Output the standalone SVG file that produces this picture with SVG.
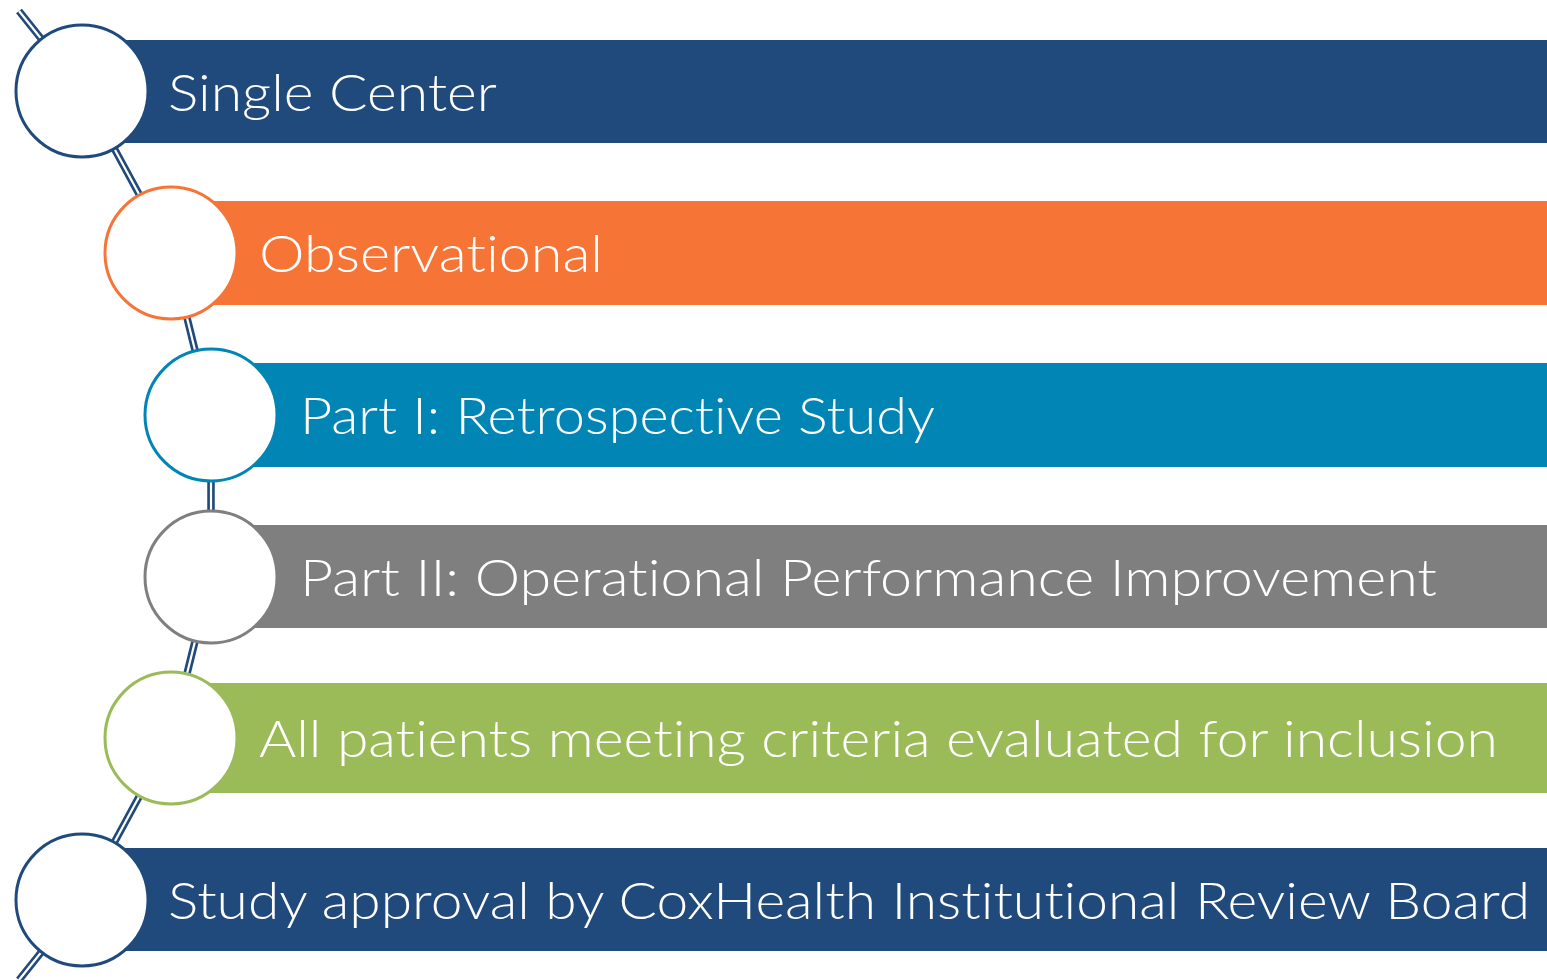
<svg xmlns="http://www.w3.org/2000/svg" width="1547" height="980" viewBox="0 0 1547 980">
  <style>
    .label { font-family: "Century Gothic", "Lato", "Liberation Sans", sans-serif; font-weight: 300; font-size: 52px; fill: #ffffff; font-variant-ligatures: none; font-feature-settings: "liga" 0, "clig" 0; }
    .dot { fill: #ffffff; stroke-width: 3; }
    .rail-outer { fill: none; stroke: #214A7C; stroke-width: 7.5; stroke-linejoin: round; }
    .rail-inner { fill: none; stroke: #ffffff; stroke-width: 2.2; stroke-linejoin: round; }
  </style>
  <rect width="1547" height="980" fill="#ffffff"/>

  <!-- double-line spine linking the steps -->
  <g id="connectors">
    <polyline class="rail-outer" points="19,11 83,91 171,253 211,415 211,577 171,738 83,900 19,980"/>
    <polyline class="rail-inner" points="19,11 83,91 171,253 211,415 211,577 171,738 83,900 19,980"/>
  </g>

  <g id="step1">
    <rect x="83" y="40" width="1464" height="103" fill="#214A7C"/>
    <circle class="dot" cx="82" cy="91" r="66" stroke="#214A7C"/>
    <text class="label" x="168" y="111" textLength="329" lengthAdjust="spacingAndGlyphs">Single Center</text>
  </g>

  <g id="step2">
    <rect x="171" y="201" width="1376" height="104" fill="#F77437"/>
    <circle class="dot" cx="171" cy="253" r="66" stroke="#F77437"/>
    <text class="label" x="259" y="272" textLength="344" lengthAdjust="spacingAndGlyphs">Observational</text>
  </g>

  <g id="step3">
    <rect x="211" y="363" width="1336" height="104" fill="#0085B5"/>
    <circle class="dot" cx="211" cy="415" r="66" stroke="#0085B5"/>
    <text class="label" x="300" y="434" textLength="635" lengthAdjust="spacingAndGlyphs">Part I: Retrospective Study</text>
  </g>

  <g id="step4">
    <rect x="211" y="525" width="1336" height="103" fill="#7F7F7F"/>
    <circle class="dot" cx="211" cy="577" r="66" stroke="#7F7F7F"/>
    <text class="label" x="300" y="596" textLength="1137" lengthAdjust="spacingAndGlyphs">Part II: Operational Performance Improvement</text>
  </g>

  <g id="step5">
    <rect x="171" y="683" width="1376" height="110" fill="#9BBB59"/>
    <circle class="dot" cx="171" cy="738" r="66" stroke="#9BBB59"/>
    <text class="label" x="259" y="757" textLength="1239" lengthAdjust="spacingAndGlyphs">All patients meeting criteria evaluated for inclusion</text>
  </g>

  <g id="step6">
    <rect x="83" y="848" width="1464" height="103" fill="#214A7C"/>
    <circle class="dot" cx="82" cy="900" r="66" stroke="#214A7C"/>
    <text class="label" x="168" y="919" textLength="1362" lengthAdjust="spacingAndGlyphs">Study approval by CoxHealth Institutional Review Board</text>
  </g>
</svg>
